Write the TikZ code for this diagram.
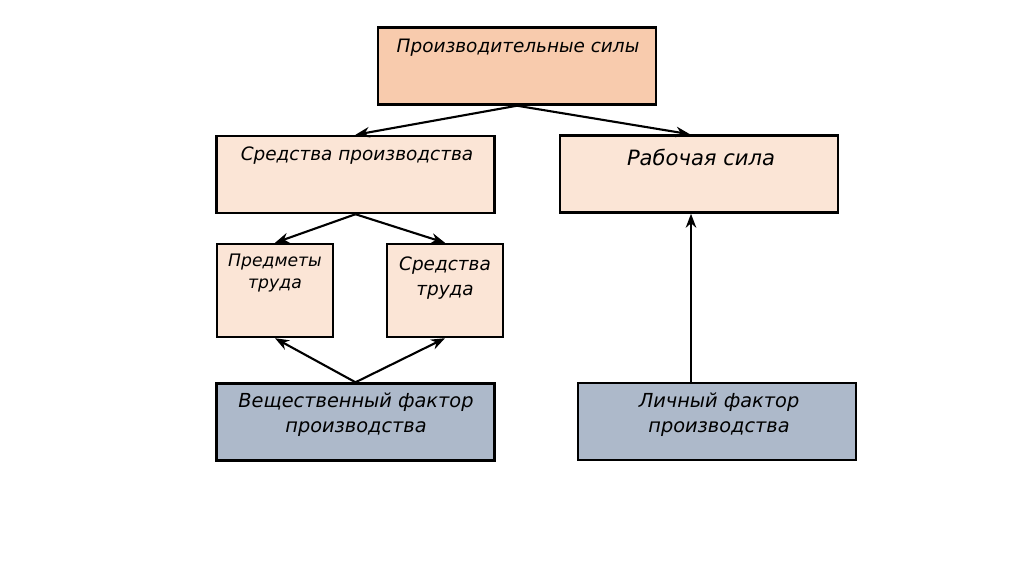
\documentclass[tikz,border=0pt]{standalone}
\usepackage{fontspec}
\setmainfont{DejaVu Sans}
\usetikzlibrary{arrows.meta}
\definecolor{salmao}{HTML}{F8CBAD}
\definecolor{pessego}{HTML}{FBE5D6}
\definecolor{cinzaAzul}{HTML}{ADB9CA}
\begin{document}
\begin{tikzpicture}[x=0.02cm,y=-0.02cm]
%============================================================
%  Estilos das caixas, textos e setas
%============================================================
\tikzset{ % Linha em branco aqui dá erro!
    % ---  Define setas ------
    >={Stealth[length=8pt,width=6pt]},
    arco/.style={  %
            ->,    % com seta no final
            line width=1.2pt  % linha grossa
        },
    % ---  Define caixas ------
    caixa/.style={ %
            rectangle, % formato retangular
            draw=black,% linha na cor preta
            line width=1.4pt, %
            inner sep=0pt % margem interna
        },
    caixaLarga/.style={caixa, minimum width=5.56cm, minimum height=1.54cm},
    caixaEstreita/.style={caixa, minimum width=2.32cm, minimum height=1.86cm},
    texto/.style={      %
            align=center, % texto centrado
            inner sep=0pt, %
            font=\itshape\fontsize{10.5}{14}\selectfont % letra italica
        }
}

   % fundo branco e margens
   \fill[white] (0,0) rectangle (1024,574);

   % caixas
   \node[caixaLarga,fill=salmao] (prodSily) at (517,66) {};
   \node[caixaLarga,fill=pessego] (sredProd) at (355.5,174.5) {};
   \node[caixaLarga,fill=pessego] (rabSila) at (699,174) {};
   \node[caixaEstreita,fill=pessego] (predTruda) at (275,290.5) {};
   \node[caixaEstreita,fill=pessego] (sredTruda) at (445,290.5) {};
   \node[caixaLarga,fill=cinzaAzul] (veschFaktor) at (355.5,422) {};
   \node[caixaLarga,fill=cinzaAzul] (lichFaktor) at (717,421.5) {};

   % textos
   \node[texto] (prodSilyTxt) at (518,48) {Производительные силы};
   \node[texto] (sredProdTxt) at (357,156) {Средства производства};
   \node[texto,font=\itshape\fontsize{12}{14}\selectfont] (rabSilaTxt) at (701,157) {Рабочая сила};
   \node[texto,font=\itshape\fontsize{9.8}{13}\selectfont] (predTrudaTxt) at (275,273) {Предметы\\труда};
   \node[texto,font=\itshape\fontsize{10.5}{14}\selectfont] (sredTrudaTxt) at (445,278) {Средства\\труда};
   \node[texto,font=\itshape\fontsize{11}{14.2}\selectfont] (veschFaktorTxt) at (356,415) {Вещественный фактор\\производства};
   \node[texto,font=\itshape\fontsize{11}{14.2}\selectfont] (lichFaktorTxt) at (719,415) {Личный фактор\\производства};

   % setas
   \draw[arco] (prodSily.south) -- (sredProd.north);
   \draw[arco] (prodSily.south) -- ([xshift=-0.18cm]rabSila.north);
   \draw[arco] (sredProd.south) -- (predTruda.north);
   \draw[arco] (sredProd.south) -- (sredTruda.north);
   \draw[arco] (veschFaktor.north) -- (predTruda.south);
   \draw[arco] (veschFaktor.north) -- (sredTruda.south);
   \draw[arco] ([xshift=-0.52cm]lichFaktor.north) -- ([xshift=-0.52cm]lichFaktor.north |- rabSila.south);
\end{tikzpicture}
\end{document}
